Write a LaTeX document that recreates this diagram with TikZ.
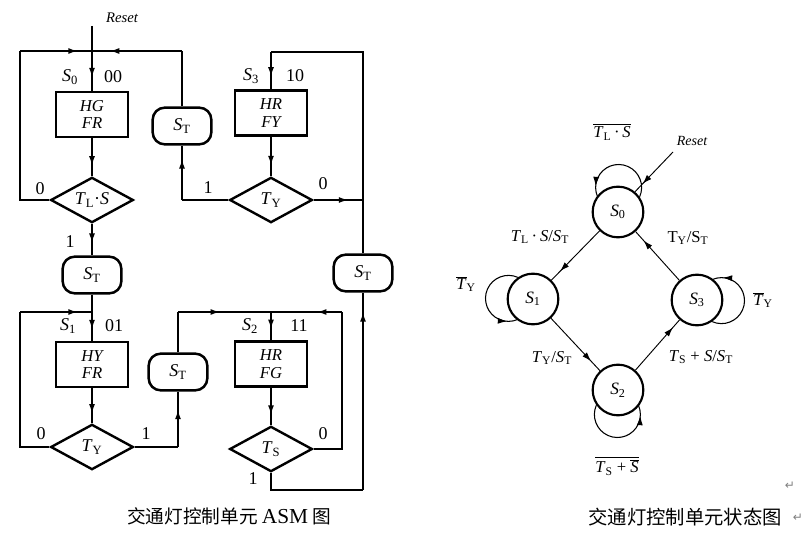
\documentclass[tikz,border=0pt]{standalone}
\usepackage{fontspec}
\setmainfont{Liberation Serif}
\newfontfamily\cjk{Noto Sans CJK SC}
\newfontfamily\dejavu{DejaVu Sans}
\usetikzlibrary{shapes.geometric,shapes.misc,arrows.meta,decorations.markings}
\tikzset{
  ln/.style={line width=1.1pt},
  am/.style={postaction={decorate},decoration={markings,mark=at position #1 with {\arrow{Latex[length=7pt,width=4.5pt]}}}},
  box/.style={draw,line width=1.8pt,rectangle,minimum width=54pt,minimum height=34pt,inner sep=0pt,align=center,font=\fontsize{12.5}{13}\selectfont\itshape},
  dia/.style={draw,line width=1.8pt,diamond,aspect=1.8,minimum width=62pt,minimum height=34pt,inner sep=0pt,font=\fontsize{13.5}{14}\selectfont},
  stt/.style={draw,line width=1.9pt,rectangle,rounded corners=9pt,minimum width=44pt,minimum height=27.5pt,inner sep=0pt,font=\fontsize{13.5}{14}\selectfont},
  lab/.style={inner sep=0pt,font=\fontsize{13.5}{14}\selectfont},
  slab/.style={inner sep=0pt,font=\fontsize{12.5}{14}\selectfont},
  state/.style={draw,circle,line width=1.6pt,minimum size=38pt,inner sep=0pt,font=\fontsize{13}{14}\selectfont},
  tr/.style={line width=0.7pt},
  lp/.style={line width=0.8pt},
}
\begin{document}
\begin{tikzpicture}[x=0.75pt,y=-0.75pt]
\useasboundingbox (0,0) rectangle (811,535);
% ---------------- ASM chart ----------------
\node[inner sep=0pt,font=\fontsize{11}{12}\selectfont\itshape] (resettxt) at (122,18) {Reset};
\coordinate (R) at (92,26);
\coordinate (J0) at (92,51);
\coordinate (TL0) at (20,51);
\coordinate (TR0) at (182,51);
\node[box] (b0) at (92,114.5) {HG\\FR};
\node[dia] (d0) at (92,200) {\textit{T}\textsubscript{L}·\textit{S}};
\node[stt] (st0) at (182,126) {\textit{S}\textsubscript{T}};
\coordinate (C0) at (20,200);
\coordinate (C1) at (182,200);
\node[stt] (st1) at (92,275) {\textit{S}\textsubscript{T}};
\coordinate (J1) at (92,312);
\coordinate (TL1) at (20,312);
\coordinate (C2) at (20,447);
\node[box] (b1) at (92,364.5) {HY\\FR};
\node[dia] (d1) at (92,447) {\textit{T}\textsubscript{Y}};
\coordinate (C3) at (178,447);
\node[stt] (st2) at (178,372) {\textit{S}\textsubscript{T}};
\coordinate (C4) at (178,312);
\coordinate (J2) at (271,312);
\coordinate (C5) at (342,312);
\node[box] (b2) at (271,364) {HR\\FG};
\node[dia] (d2) at (271,449) {\textit{T}\textsubscript{S}};
\coordinate (C6) at (342,449);
\coordinate (C7) at (271,490);
\coordinate (C8) at (363,490);
\node[stt] (st3) at (363,273) {\textit{S}\textsubscript{T}};
\coordinate (C9) at (363,52);
\coordinate (J3) at (271,52);
\node[box] (b3) at (271,113) {HR\\FY};
\node[dia] (d3) at (271,200) {\textit{T}\textsubscript{Y}};
\coordinate (C10) at (363,200);

\draw[ln] (R) -- (J0);
\draw[ln,am=0.66] (J0) -- (b0.north);
\draw[ln] (d0.west) -- (C0) -- (TL0);
\draw[ln,am=0.8] (TL0) -- (J0);
\draw[ln] (st0.north) -- (TR0);
\draw[ln,am=0.8] (TR0) -- (J0);
\draw[ln,am=0.72] (b0.south) -- (d0.north);
\draw[ln] (d3.west) -- (C1);
\draw[ln,am=0.75] (C1) -- (st0.south);
\draw[ln,am=0.6] (d0.south) -- (st1.north);
\draw[ln] (st1.south) -- (J1);
\draw[ln,am=0.6] (J1) -- (b1.north);
\draw[ln] (d1.west) -- (C2) -- (TL1);
\draw[ln,am=0.8] (TL1) -- (J1);
\draw[ln,am=0.72] (b1.south) -- (d1.north);
\draw[ln] (d1.east) -- (C3);
\draw[ln,am=0.67] (C3) -- (st2.south);
\draw[ln] (st2.north) -- (C4);
\draw[ln,am=0.45] (C4) -- (J2);
\draw[ln,am=0.6] (J2) -- (b2.north);
\draw[ln] (d2.east) -- (C6) -- (C5);
\draw[ln,am=0.35] (C5) -- (J2);
\draw[ln,am=0.72] (b2.south) -- (d2.north);
\draw[ln] (d2.south) -- (C7) -- (C8);
\draw[ln,am=0.9] (C8) -- (st3.south);
\draw[ln] (st3.north) -- (C9) -- (J3);
\draw[ln,am=0.66] (J3) -- (b3.north);
\draw[ln,am=0.72] (b3.south) -- (d3.north);
\draw[ln,am=0.7] (d3.east) -- (C10);

% labels
\node[lab] (ls0) at (70,77) {\textit{S}\textsubscript{0}};
\node[lab] (l00) at (113,77) {00};
\node[lab] (ls3) at (251,76) {\textit{S}\textsubscript{3}};
\node[lab] (l10) at (295,76) {10};
\node[lab] (ls1) at (68,326) {\textit{S}\textsubscript{1}};
\node[lab] (l01) at (114,326) {01};
\node[lab] (ls2) at (250,326) {\textit{S}\textsubscript{2}};
\node[lab] (l11) at (299,326) {11};
\node[lab] (z0) at (40,189) {0};
\node[lab] (o0) at (70,242) {1};
\node[lab] (o3) at (208,188) {1};
\node[lab] (z3) at (323,184) {0};
\node[lab] (z1) at (41,434) {0};
\node[lab] (o1) at (146,434) {1};
\node[lab] (z2) at (323,434) {0};
\node[lab] (o2) at (253,479) {1};

% ---------------- state diagram ----------------
\node[state] (s0) at (618,212) {\textit{S}\textsubscript{0}};
\node[state] (s1) at (533,299) {\textit{S}\textsubscript{1}};
\node[state] (s2) at (618,390) {\textit{S}\textsubscript{2}};
\node[state] (s3) at (697,300) {\textit{S}\textsubscript{3}};

\draw[lp,am=0.88] (s0.35) arc[start angle=-24, end angle=204, radius=17.25pt];
\draw[lp,am=0.88] (s1.125) arc[start angle=66, end angle=294, radius=17.25pt];
\draw[lp,am=0.88] (s2.215) arc[start angle=156, end angle=384, radius=17.25pt];
\draw[lp,am=0.88] (s3.-55) arc[start angle=-114, end angle=114, radius=17.25pt];

\draw[tr,am=0.82] (s0) -- (s1);
\draw[tr,am=0.82] (s3) -- (s0);
\draw[tr,am=0.82] (s1) -- (s2);
\draw[tr,am=0.85] (s2) -- (s3);

\coordinate (rs) at (673,152);
\draw[tr,am=0.8] (rs) -- (s0.50);
\node[inner sep=0pt,font=\fontsize{10.5}{11}\selectfont\itshape] (rsl) at (692,141) {Reset};

\node[slab] (t01) at (540,237) {\textit{T}\textsubscript{L}\,·\,\textit{S}/\textit{S}\textsubscript{T}};
\node[slab] (t30) at (688,238) {T\textsubscript{Y}/S\textsubscript{T}};
\node[slab] (t12) at (552,358) {\textit{T}\textsubscript{Y}/\textit{S}\textsubscript{T}};
\node[slab] (t23) at (701,357) {\textit{T}\textsubscript{S} + \textit{S}/\textit{S}\textsubscript{T}};
\node[slab] (t00) at (612,132) {$\overline{\mbox{\textit{T}\textsubscript{L}\,·\,\textit{S}}}$};
\node[slab] (t22) at (617,466) {$\overline{\mbox{\textit{T}\textsubscript{S} + $\overline{\mbox{\textit{S}}}$}}$};
\node[slab] (t11) at (466,284) {$\overline{\mbox{\textit{T}}}$\textsubscript{Y}};
\node[slab] (t33) at (763,300) {$\overline{\mbox{\textit{T}}}$\textsubscript{Y}};

% captions
\node[inner sep=0pt,font=\fontsize{14}{16}\selectfont] (cap1) at (229,516) {\cjk 交通灯控制单元\ {\rmfamily\fontsize{16}{16}\selectfont ASM} 图};
\node[inner sep=0pt,font=\fontsize{14.5}{16}\selectfont] (cap2) at (685,517) {\cjk 交通灯控制单元状态图};
\node[inner sep=0pt,text=gray,font=\fontsize{9}{10}\selectfont\dejavu] (ret1) at (790,486) {↵};
\node[inner sep=0pt,text=gray,font=\fontsize{9}{10}\selectfont\dejavu] (ret2) at (798,518) {↵};
\end{tikzpicture}
\end{document}
